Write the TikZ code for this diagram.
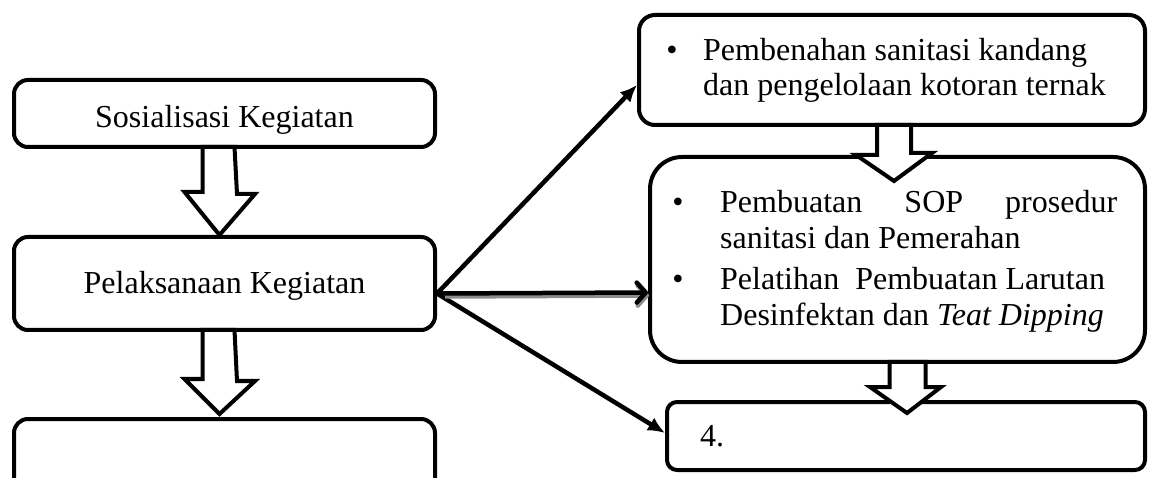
\documentclass[tikz,border=0pt]{standalone}
\usepackage{fontspec}
\setmainfont{Liberation Serif}
\usetikzlibrary{arrows.meta,calc}
\begin{document}
\begin{tikzpicture}[x=1pt,y=-1pt,
  bx/.style={draw, line width=4pt, inner sep=0pt, fill=white},
  txt/.style={inner sep=0pt, font=\fontsize{32pt}{35pt}\selectfont},
  blk/.style={draw, line width=4pt, fill=white, line join=miter, miter limit=10},
  conn/.style={line width=4.5pt, -{Latex[length=17pt,width=15pt]}},
  barb/.style={line width=4.5pt, -{Straight Barb[length=9pt,width=20pt,round]}}
]
\useasboundingbox (0,0) rectangle (1149,478);
\clip (0,0) rectangle (1149,478);

% left column boxes
\node[bx, rounded corners=14pt, minimum width=421pt, minimum height=67pt] (A) at (224.5,113.5) {};
\node[bx, rounded corners=14pt, minimum width=421pt, minimum height=93pt] (B) at (224.5,283.5) {};
\node[bx, rounded corners=14pt, minimum width=421pt, minimum height=101pt] (C) at (224.5,469.5) {};
\node[txt, anchor=base] (tA) at (224.5,128) {Sosialisasi Kegiatan};
\node[txt, anchor=base] (tB) at (224.5,294) {Pelaksanaan Kegiatan};

% right column boxes
\node[bx, rounded corners=16pt, minimum width=506pt, minimum height=110pt] (D) at (892,70) {};
\node[bx, rounded corners=32pt, minimum width=495pt, minimum height=205pt] (E) at (897.5,259.5) {};
\node[bx, rounded corners=10pt, minimum width=478pt, minimum height=68pt] (F) at (906,436) {};

\node[txt, anchor=base] (db1) at (672,61) {\textbullet};
\node[txt, anchor=base west] (d1) at (703,61) {Pembenahan sanitasi kandang};
\node[txt, anchor=base west] (d2) at (703,96) {dan pengelolaan kotoran ternak};

\node[txt, anchor=base] (eb1) at (678,213) {\textbullet};
\node[txt, anchor=base west] (e1) at (720,213) {\hbox to 397pt{Pembuatan\hfill SOP\hfill prosedur}};
\node[txt, anchor=base west] (e2) at (720,249) {sanitasi dan Pemerahan};
\node[txt, anchor=base] (eb2) at (678,290) {\textbullet};
\node[txt, anchor=base west] (e3) at (720,290) {Pelatihan\ \ Pembuatan Larutan};
\node[txt, anchor=base west] (e4) at (720,326) {Desinfektan dan \textit{Teat Dipping}};

\node[txt, anchor=base west] (f1) at (700,446) {4.};

% block arrows
\draw[blk] ([xshift=-22pt,yshift=2pt]A.south) -- ++(0,45) -- ++(-18,0)
  -- ([xshift=-5pt]B.north) -- ++(35.5,-41) -- ++(-18,0)
  -- ([xshift=10pt,yshift=2pt]A.south) -- cycle;
\draw[blk] ([xshift=-22pt,yshift=2pt]B.south) -- ++(0,49) -- ++(-18,0)
  -- ([xshift=-5pt,yshift=3pt]C.north) -- ++(35.5,-33) -- ++(-18,0)
  -- ([xshift=10pt,yshift=2pt]B.south) -- cycle;
\draw[blk] ([xshift=-15pt,yshift=2pt]D.south) -- ++(0,30) -- ++(-21,0)
  -- ([xshift=-3.5pt,yshift=-26pt]E.north) -- ++(38,-28) -- ++(-21,0)
  -- ([xshift=19pt,yshift=2pt]D.south) -- cycle;
\draw[blk] ([xshift=-8pt,yshift=2pt]E.south) -- ++(0,25) -- ++(-19.5,0)
  -- ([xshift=1pt,yshift=-13pt]F.north) -- ++(34,-26) -- ++(-15.5,0)
  -- ([xshift=28pt,yshift=2pt]E.south) -- cycle;

% connectors
\coordinate (o) at ([yshift=-10pt]B.east);
\draw[conn] (o) -- ([yshift=-15pt]D.west);
\draw[conn] (o) -- ([yshift=3pt]F.west);
\draw[barb, black!45] ([xshift=8pt,yshift=-3pt]o) -- ([xshift=1pt,yshift=-36pt]E.west);
\draw[barb] (o) -- ([yshift=-33pt]E.west);
\end{tikzpicture}
\end{document}
